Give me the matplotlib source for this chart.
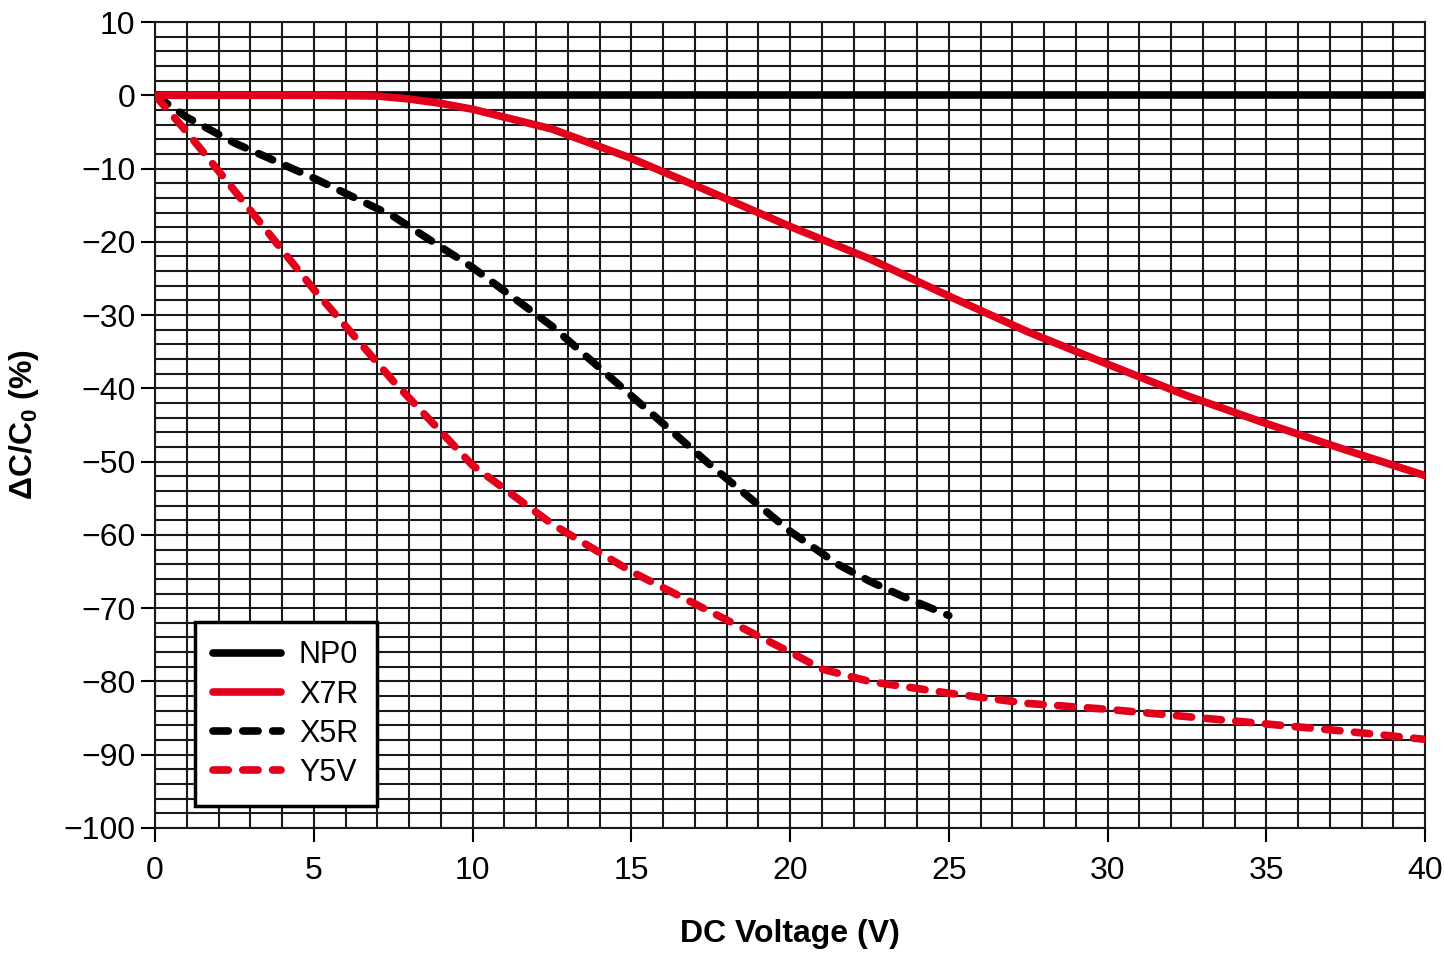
import numpy as np
import matplotlib
matplotlib.use('Agg')
import matplotlib.pyplot as plt
from matplotlib.ticker import MultipleLocator

plt.rcParams['font.family'] = ['Liberation Sans', 'DejaVu Sans']
plt.rcParams['axes.unicode_minus'] = True

RED = '#e2001a'

# DC bias curves (volts, percent change)
np0_v = [0, 40]
np0_c = [0, 0]

x7r_v = [0, 5, 7, 8, 9, 10, 12.5, 15, 17.5, 20, 22.5, 25, 27.5, 30, 32.5, 35, 37.5, 40]
x7r_c = [0, 0, -0.1, -0.5, -1.1, -1.9, -4.6, -8.6, -13.2, -17.9, -22.3, -27.4, -32.3, -36.7, -41.0, -44.8, -48.4, -51.9]

x5r_v = [0, 1, 2.5, 5, 7.5, 10, 12.5, 15, 17.5, 20, 21.5, 22.5, 23.5, 25]
x5r_c = [0, -3.0, -6.5, -11.3, -16.5, -23.5, -31.5, -41.0, -50.5, -59.5, -64.0, -66.3, -68.3, -71.0]

y5v_v = [0, 1, 2.5, 5, 7.5, 10, 12.5, 15, 17.5, 20, 21, 22.5, 25, 27.5, 30, 32.5, 35, 37.5, 40]
y5v_c = [0, -5.0, -13.0, -26.5, -39.0, -50.5, -58.5, -65.0, -70.5, -76.0, -78.3, -80.0, -81.6, -83.0, -83.8, -84.8, -85.8, -86.8, -87.9]

fig = plt.figure(figsize=(14.45, 9.58), dpi=100)
ax = fig.add_axes([0.1073, 0.1357, 0.8789, 0.8413])

lw = 5.5
ax.plot(np0_v, np0_c, color='black', lw=lw, solid_capstyle='round', label='NP0', zorder=3)
ax.plot(x7r_v, x7r_c, color=RED, lw=lw, solid_capstyle='round', label='X7R', zorder=4)
ax.plot(x5r_v, x5r_c, color='black', lw=lw, dashes=(2.0, 1.9), dash_capstyle='round', label='X5R', zorder=3)
ax.plot(y5v_v, y5v_c, color=RED, lw=lw, dashes=(2.0, 1.9), dash_capstyle='round', label='Y5V', zorder=3)

ax.set_xlim(0, 40)
ax.set_ylim(-100, 10)
ax.xaxis.set_major_locator(MultipleLocator(5))
ax.xaxis.set_minor_locator(MultipleLocator(1))
ax.yaxis.set_major_locator(MultipleLocator(10))
ax.yaxis.set_minor_locator(MultipleLocator(2))
ax.grid(which='both', color='#1a1a1a', lw=1.5)
ax.set_axisbelow(True)
for s in ax.spines.values():
    s.set_color('#1a1a1a')
    s.set_linewidth(1.5)

ax.tick_params(which='major', direction='out', length=10, width=1.5, labelsize=23, pad=4)
ax.tick_params(which='minor', length=0)
ax.tick_params(axis='x', pad=10)

ax.set_xlabel('DC Voltage (V)', fontsize=23, fontweight='bold', labelpad=24)
ax.set_ylabel(r'ΔC/C$_\mathregular{0}$ (%)', fontsize=23, fontweight='bold', labelpad=16)

leg = ax.legend(loc='lower left', bbox_to_anchor=(0.0315, 0.027), borderaxespad=0,
                fontsize=22, frameon=True, fancybox=False, edgecolor='black', framealpha=1,
                handlelength=2.2, handletextpad=0.6, borderpad=0.6, labelspacing=0.3)
leg.get_frame().set_linewidth(2.5)

fig.savefig('out.png', dpi=100)
